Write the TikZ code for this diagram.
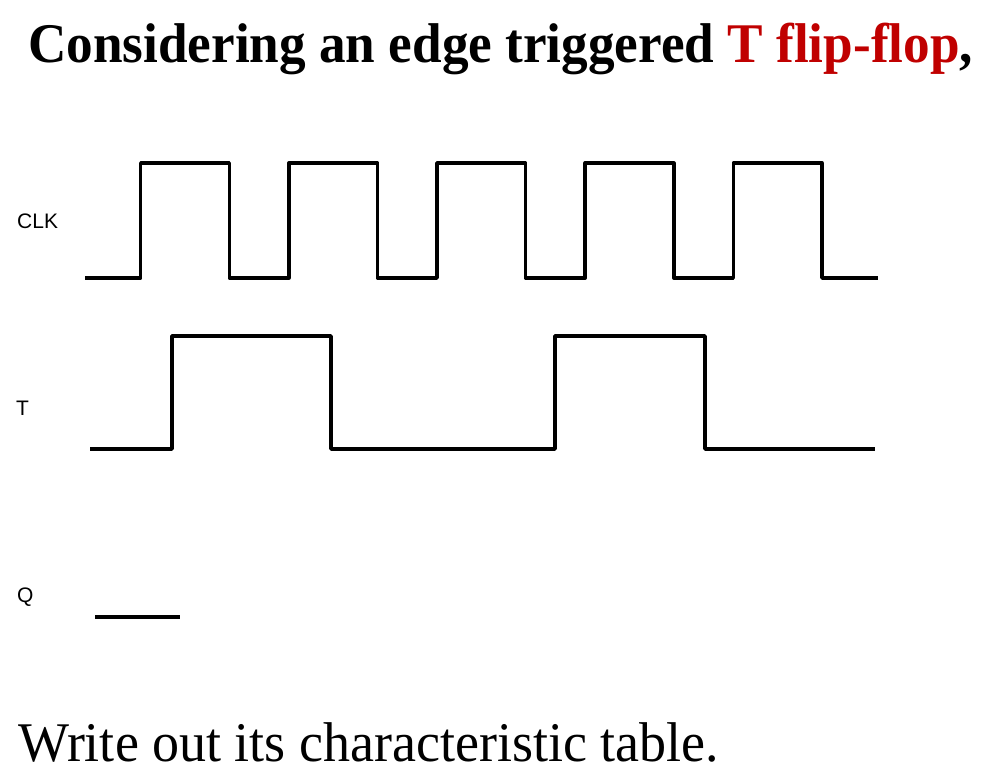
\documentclass[tikz,border=0pt]{standalone}
\usepackage{fontspec}
\setmainfont{Liberation Serif}
\newfontfamily\labelfont{Liberation Sans}
\usetikzlibrary{positioning}
\definecolor{accent}{HTML}{C00000}
\tikzset{wave/.style={line width=3.5pt,line join=round},sig/.style={anchor=west,inner sep=0pt,font=\labelfont\fontsize{21}{21}\selectfont},heading/.style={anchor=base west,inner sep=0pt,xscale=0.95,font=\fontsize{56}{56}\selectfont}}

\begin{document}
\begin{tikzpicture}[x=1pt,y=-1pt]
\useasboundingbox (0,0) rectangle (1000,780);
\node[heading,font=\fontsize{56}{56}\selectfont\bfseries] (title) at (28,62) {Considering an edge triggered \textcolor{accent}{T flip-flop},};
\node[sig] (clk) at (17,221) {CLK};
\node[sig] (tlab) at (16,408) {T};
\node[sig] (qlab) at (17,597) {Q};
% clock
\draw[wave] (85,278) foreach \k in {0,...,4} {
  -- ({140.7+148.15*\k},278) -- ({140.7+148.15*\k},163)
  -- ({229.3+148.15*\k},163) -- ({229.3+148.15*\k},278)} -- (878,278);
% T input
\draw[wave] (90,449) -- (172,449) -- (172,336) -- (331,336) -- (331,449)
  -- (555,449) -- (555,336) -- (705,336) -- (705,449) -- (875,449);
% Q output
\draw[line width=4pt] (95,616.5) -- (180,616.5);
\node[heading,xscale=1.015] (task) at (18,761) {Write out its characteristic table.};
\end{tikzpicture}
\end{document}
